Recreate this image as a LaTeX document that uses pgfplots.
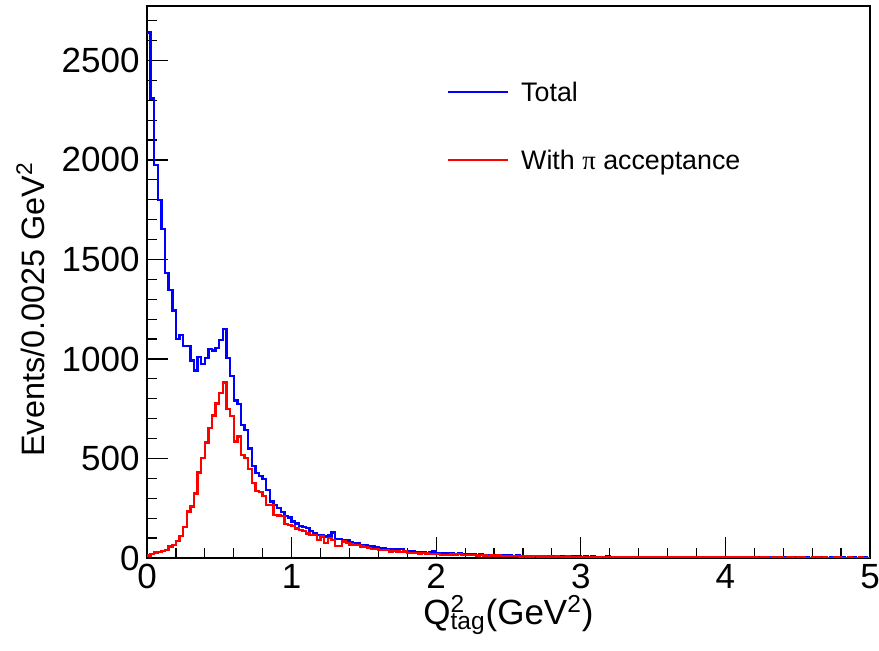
\documentclass[border=0pt]{standalone}
\usepackage{fontspec}
\setmainfont{Liberation Sans}
\newfontfamily\greekfont{Liberation Serif}
\usepackage{pgfplots}
\pgfplotsset{compat=1.18}
\usepackage{pgfplotstable}

\pgfplotstableread{
x tot acc
0 2641 12
0.025 2308 20
0.05 1976 28
0.075 1798 30
0.1 1652 35
0.125 1431 40
0.15 1347 57
0.175 1243 65
0.2 1100 85
0.225 1121 110
0.25 1066 155
0.275 1066 233
0.3 992 258
0.325 942 325
0.35 1009 429
0.375 975 501
0.4 1004 580
0.425 1051 652
0.45 1042 716
0.475 1054 776
0.5 1096 828
0.525 1151 881
0.55 1004 748
0.575 915 712
0.6 791 585
0.625 774 610
0.65 669 518
0.675 644 501
0.7 551 446
0.725 463 376
0.75 426 338
0.775 412 333
0.8 396 312
0.825 342 266
0.85 283 266
0.875 266 216
0.9 250 213
0.925 230 210
0.95 211 171
0.975 203 166
1.0 183 160
1.025 174 149
1.05 162 141
1.075 157 135
1.1 150 124
1.125 137 116
1.15 124 116
1.175 116 90
1.2 116 107
1.225 107 74
1.25 112 100
1.275 128 90
1.3 94 60
1.325 94 60
1.35 87 82
1.375 87 75
1.4 80 68
1.425 74 65
1.45 74 65
1.475 65 57
1.5 65 55
1.525 60 50
1.55 57 44
1.575 52 44
1.6 49 40
1.625 49 41
1.65 44 40
1.675 46 32
1.7 44 34
1.725 42 32
1.75 44 31
1.775 34 32
1.8 32 24
1.825 33 25
1.85 30 24
1.875 27 23
1.9 28 24
1.925 26 22
1.95 27 20
1.975 32 21
2.0 24 20
2.025 25 16
2.05 24 15
2.075 23 16
2.1 22 18
2.125 20 17
2.15 24 19
2.175 18 15
2.2 20 16
2.225 17 14
2.25 19 15
2.275 16 13
2.3 18 14
2.325 15 12
2.35 14 11
2.375 16 13
2.4 13 10
2.425 15 12
2.45 12 10
2.475 14 11
2.5 12 9
2.525 11 9
2.55 12 10
2.575 10 8
2.6 11 9
2.625 9 7
2.65 10 8
2.675 11 9
2.7 9 7
2.725 8 7
2.75 10 8
2.775 9 7
2.8 8 6
2.825 9 7
2.85 7 6
2.875 8 6
2.9 9 7
2.925 7 5
2.95 8 6
2.975 7 6
3.0 6 5
3.025 7 5
3.05 6 5
3.075 7 6
3.1 6 5
3.125 5 4
3.15 6 5
3.175 7 5
3.2 5 4
3.225 6 5
3.25 5 4
3.275 6 5
3.3 5 4
3.325 4 3
3.35 5 4
3.375 6 5
3.4 4 3
3.425 5 4
3.45 4 3
3.475 5 4
3.5 4 3
3.525 4 3
3.55 5 4
3.575 3 3
3.6 4 3
3.625 4 3
3.65 3 2
3.675 5 4
3.7 4 3
3.725 3 2
3.75 4 3
3.775 3 3
3.8 4 3
3.825 3 2
3.85 3 2
3.875 4 3
3.9 3 2
3.925 2 2
3.95 3 2
3.975 4 3
4.0 3 2
4.025 3 2
4.05 2 2
4.075 3 2
4.1 3 3
4.125 2 2
4.15 3 2
4.175 2 2
4.2 4 3
4.225 2 1
4.25 3 2
4.275 2 2
4.3 2 1
4.325 3 2
4.35 2 2
4.375 3 2
4.4 2 1
4.425 2 2
4.45 3 2
4.475 2 1
4.5 2 2
4.525 3 2
4.55 2 1
4.575 1 1
4.6 2 2
4.625 3 2
4.65 2 1
4.675 2 2
4.7 1 1
4.725 2 1
4.75 2 2
4.775 3 2
4.8 2 1
4.825 1 1
4.85 2 2
4.875 2 1
4.9 1 1
4.925 2 2
4.95 2 1
4.975 1 1
5.0 1 1
}\histdata

\begin{document}
\begin{tikzpicture}
\path[use as bounding box] (0,0) rectangle (439.5pt,325.5pt);
\begin{axis}[
  at={(73.5pt,46.5pt)}, anchor=south west,
  scale only axis, width=361.5pt, height=276.15pt,
  xmin=0, xmax=5, ymin=0, ymax=2775,
  xtick={0,1,2,3,4,5}, ytick={0,500,1000,1500,2000,2500,3000},
  minor x tick num=4, minor y tick num=4,
  tick align=inside, tick pos=left,
  major tick length=10.5pt, minor tick length=5pt,
  every tick/.style={black, line width=0.6pt},
  axis line style={black, line width=0.9pt},
  /pgf/number format/assume math mode=true,
  /pgf/number format/set thousands separator={},
  scaled ticks=false,
  tick label style={font=\fontsize{17.5}{17.5}\selectfont},
  yticklabel style={inner xsep=3.5pt},
  xticklabel style={inner ysep=3pt},
  xlabel={Q\rlap{\textsuperscript{2}}\textsubscript{tag}(GeV\textsuperscript{2})},
  ylabel={Events/0.0025 GeV\textsuperscript{2}},
  every axis x label/.style={at={(axis description cs:0.5,-0.103)}, anchor=center, font=\fontsize{17.5}{17.5}\selectfont},
  every axis y label/.style={at={(axis description cs:-0.161,0.45)}, anchor=center, rotate=90, font=\fontsize{16.2}{16.2}\selectfont},
  legend style={draw=none, fill=none, at={(axis description cs:0.415,0.9053)}, anchor=north west,
    inner sep=0pt, outer sep=0pt, font=\fontsize{13.4}{16}\selectfont, column sep=6pt, row sep=0pt,
    nodes={inner sep=0pt, text height=9.6pt, text depth=0pt, minimum height=34pt}},
  legend cell align=left,
  legend image code/.code={\draw[#1, line width=1.1pt] (0pt,0pt) -- (30pt,0pt);},
]
\addplot[const plot, draw={rgb,255:red,0;green,0;blue,255}, line width=1.2pt] table[x=x, y=tot] {\histdata};
\addlegendentry{Total}
\addplot[const plot, draw={rgb,255:red,255;green,0;blue,0}, line width=1.2pt] table[x=x, y=acc] {\histdata};
\addlegendentry{With {\greekfont π} acceptance}
\end{axis}
\end{tikzpicture}
\end{document}
